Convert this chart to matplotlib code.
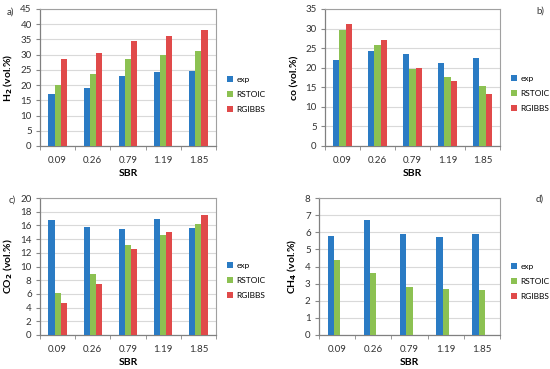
import matplotlib
matplotlib.use("Agg")
import matplotlib.pyplot as plt
import numpy as np

plt.rcParams['font.family'] = ['Lato', 'DejaVu Sans']

sbr = ["0.09", "0.26", "0.79", "1.19", "1.85"]
series = ["exp", "RSTOIC", "RGIBBS"]
colors = ["#2A7BC4", "#8CC152", "#E04A4A"]

h2_exp = [17.2, 19.1, 23.0, 24.3, 24.6]
h2_rstoic = [19.9, 23.6, 28.7, 30.0, 31.2]
h2_rgibbs = [28.6, 30.6, 34.5, 36.2, 38.0]

co_exp = [21.9, 24.2, 23.6, 21.2, 22.6]
co_rstoic = [29.6, 25.7, 19.6, 17.5, 15.4]
co_rgibbs = [31.1, 27.1, 19.9, 16.6, 13.2]

co2_exp = [16.8, 15.8, 15.5, 16.9, 15.6]
co2_rstoic = [6.2, 8.9, 13.1, 14.6, 16.2]
co2_rgibbs = [4.6, 7.4, 12.5, 15.0, 17.5]

ch4_exp = [5.8, 6.7, 5.9, 5.75, 5.9]
ch4_rstoic = [4.4, 3.6, 2.8, 2.7, 2.6]
ch4_rgibbs = [0, 0, 0, 0, 0]

panels = [
    dict(rect=[40/550, 1-146/369, 176/550, 137/369], data=[h2_exp, h2_rstoic, h2_rgibbs],
         ylim=45, step=5, ylabel="H$_\\mathbf{2}$ (vol.%)", tag="a)", tagpos=(10, 12), leg_y=79),
    dict(rect=[325/550, 1-146/369, 175/550, 137/369], data=[co_exp, co_rstoic, co_rgibbs],
         ylim=35, step=5, ylabel="co (vol.%)", tag="b)", tagpos=(540, 11), leg_y=78),
    dict(rect=[40/550, 1-335/369, 176/550, 137/369], data=[co2_exp, co2_rstoic, co2_rgibbs],
         ylim=20, step=2, ylabel="CO$_\\mathbf{2}$ (vol.%)", tag="c)", tagpos=(12, 200), leg_y=265),
    dict(rect=[319/550, 1-335/369, 181/550, 137/369], data=[ch4_exp, ch4_rstoic, ch4_rgibbs],
         ylim=8, step=1, ylabel="CH$_\\mathbf{4}$ (vol.%)", tag="d)", tagpos=(540, 199), leg_y=266),
]

fig = plt.figure(figsize=(5.5, 3.69), dpi=100)
x = np.arange(len(sbr))
w = 0.175
for p in panels:
    ax = fig.add_axes(p["rect"])
    for i, (vals, c, name) in enumerate(zip(p["data"], colors, series)):
        ax.bar(x + (i - 1) * w, vals, width=w, color=c, label=name, zorder=3)
    ax.set_xlim(-0.5, len(sbr) - 0.5)
    ax.set_ylim(0, p["ylim"])
    ax.set_yticks(np.arange(0, p["ylim"] + 0.01, p["step"]))
    ax.yaxis.grid(True, color="#D9D9D9", linewidth=0.8, zorder=0)
    ax.set_xticks(x)
    ax.set_xticklabels(sbr)
    ax.set_xticks(np.arange(-0.5, len(sbr)), minor=True)
    ax.tick_params(axis='x', which='major', length=0, labelsize=7, pad=7, colors="#333333")
    ax.tick_params(axis='x', which='minor', length=3, color="#888888")
    ax.tick_params(axis='y', length=3, labelsize=7, color="#888888", labelcolor="#333333", pad=3)
    for s in ["top", "right"]:
        ax.spines[s].set_color("#A0A0A0")
        ax.spines[s].set_linewidth(0.8)
    for s in ["left", "bottom"]:
        ax.spines[s].set_color("#808080")
        ax.spines[s].set_linewidth(0.9)
    ax.set_ylabel(p["ylabel"], fontsize=7.5, fontweight="bold", labelpad=4)
    ax.set_xlabel("SBR", fontsize=7.5, fontweight="bold", labelpad=3)
    # legend
    right_px = (p["rect"][0] + p["rect"][2]) * 550
    ax.legend(loc="upper left",
              bbox_to_anchor=((right_px + 11) / 550, 1 - (p["leg_y"] - 3) / 369),
              bbox_transform=fig.transFigure, frameon=False, fontsize=6,
              handlelength=0.7, handleheight=0.7, handletextpad=0.45,
              labelspacing=0.95, borderaxespad=0, borderpad=0)
    fig.text(p["tagpos"][0] / 550, 1 - p["tagpos"][1] / 369, p["tag"], fontsize=7,
             ha="center", va="center", color="#333333")

fig.savefig("out.png", dpi=100)
